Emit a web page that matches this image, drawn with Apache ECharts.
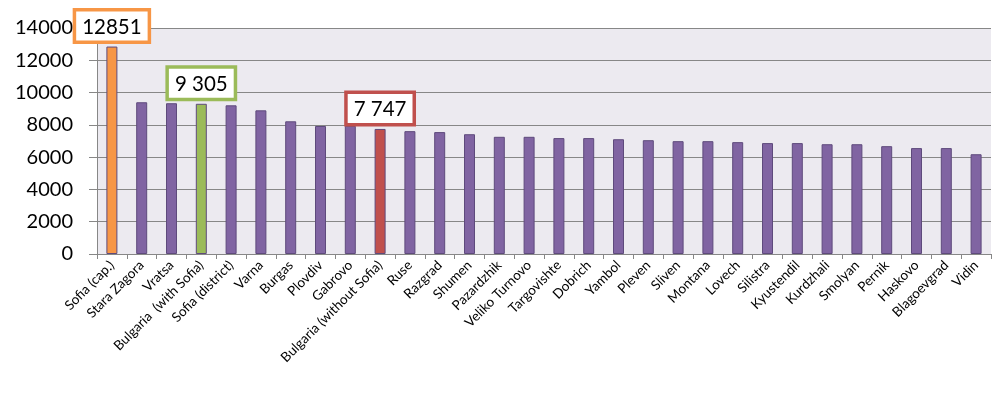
<!DOCTYPE html>
<html>
<head>
<meta charset="utf-8">
<script src="https://cdn.jsdelivr.net/npm/echarts@6/dist/echarts.min.js"></script>
<style>
html,body{margin:0;padding:0;background:#fff;}
#chart{width:1002px;height:394px;}
</style>
</head>
<body>
<div id="chart"></div>
<script>
const categories = ['Sofia (cap.)','Stara Zagora','Vratsa','Bulgaria  (with Sofia)','Sofia (district)','Varna','Burgas','Plovdiv','Gabrovo','Bulgaria (without Sofia)','Ruse','Razgrad','Shumen','Pazardzhik','Veliko Turnovo','Targovishte','Dobrich','Yambol','Pleven','Sliven','Montana','Lovech','Silistra','Kyustendil','Kurdzhali','Smolyan','Pernik','Haskovo','Blagoevgrad','Vidin'];
const values = [12851,9400,9340,9305,9210,8900,8220,7930,7940,7747,7610,7550,7420,7260,7260,7180,7180,7110,7050,6990,6990,6930,6870,6870,6800,6800,6680,6560,6560,6180];
const yTicks = [0,2000,4000,6000,8000,10000,12000,14000];
const calloutIndex = [0,3,9];
const calloutText = ['12851','9 305','7 747'];

const calloutColors = ['#F79646','#9BBB59','#C0504D'];
const baseColor = '#8064A2';
const borderColor = '#5E4A7C';

const seriesData = values.map((v, i) => {
  const k = calloutIndex.indexOf(i);
  if (k < 0) return { value: v };
  return {
    value: v,
    itemStyle: { color: calloutColors[k] },
    label: {
      show: true,
      position: 'top',
      distance: 6,
      formatter: () => calloutText[k],
      color: '#000',
      fontFamily: 'Lato',
      fontSize: 20.5,
      backgroundColor: '#fff',
      borderColor: calloutColors[k],
      borderWidth: 3.5,
      padding: [5, 6, 3, 6]
    }
  };
});

const chart = echarts.init(document.getElementById('chart'));
chart.setOption({
  animation: false,
  backgroundColor: '#fff',
  grid: { left: 97, right: 11, top: 28, bottom: 140, show: true, backgroundColor: '#ECEAF0', borderWidth: 0 },
  xAxis: {
    type: 'category',
    data: categories,
    axisLine: { lineStyle: { color: '#878787', width: 1 } },
    axisTick: { show: true, length: 5, lineStyle: { color: '#878787' } },
    axisLabel: { rotate: 45, interval: 0, fontFamily: 'Lato', fontSize: 13.5, color: '#000', margin: 9 }
  },
  yAxis: {
    type: 'value',
    min: 0, max: 14000, interval: 2000,
    axisLine: { show: true, lineStyle: { color: '#878787', width: 1 } },
    axisTick: { show: true, inside: false, length: 8, lineStyle: { color: '#878787' } },
    splitLine: { lineStyle: { color: '#878787', width: 1 } },
    axisLabel: { fontFamily: 'Lato', fontSize: 20, color: '#000', margin: 24,
      formatter: v => yTicks.includes(v) ? String(v) : '' }
  },
  series: [{
    type: 'bar',
    data: seriesData,
    barWidth: 11,
    itemStyle: { color: baseColor, borderColor: borderColor, borderWidth: 1 },
    label: { show: false }
  }]
});
</script>
</body>
</html>
